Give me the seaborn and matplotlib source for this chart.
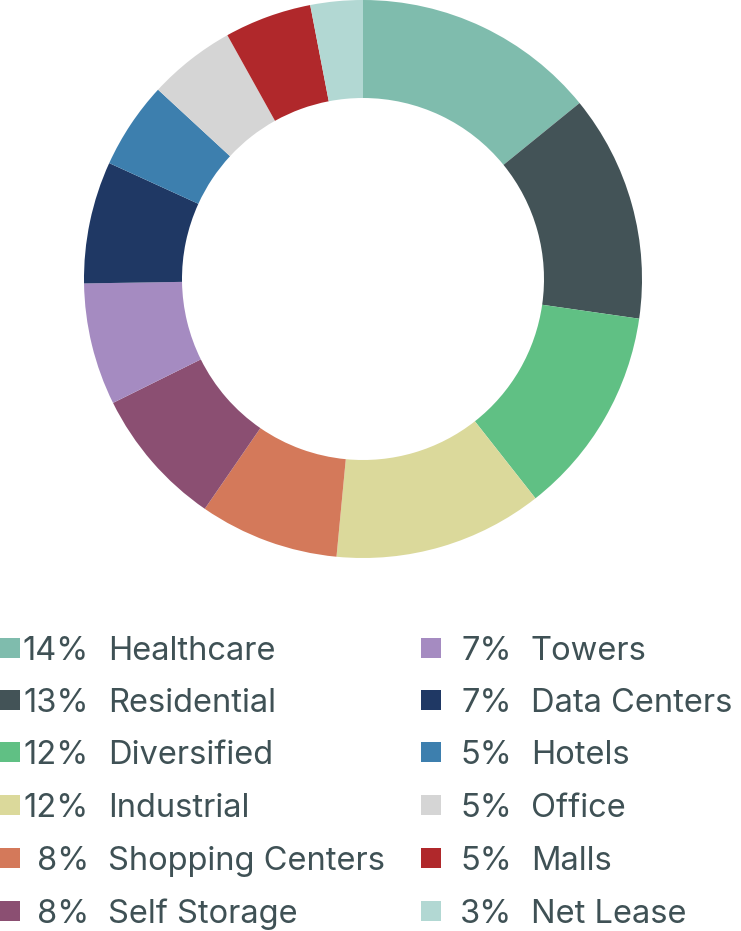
import matplotlib
matplotlib.use("Agg")
import matplotlib.pyplot as plt
import seaborn as sns
from matplotlib.patches import Rectangle

categories = ["Healthcare", "Residential", "Diversified", "Industrial", "Shopping Centers",
              "Self Storage", "Towers", "Data Centers", "Hotels", "Office", "Malls", "Net Lease"]
values = [14, 13, 12, 12, 8, 8, 7, 7, 5, 5, 5, 3]
colors = ["#7fbcad", "#435357", "#60c084", "#dbd99b", "#d4795a", "#8b4f72",
          "#a58bc1", "#1f3864", "#3d7fae", "#d5d5d5", "#b0282b", "#b2d8d3"]

sns.set_theme(style="white")
plt.rcParams['font.family'] = ['Inter', 'DejaVu Sans']

W, H = 741, 931
fig = plt.figure(figsize=(W / 100, H / 100), dpi=100)
ax = fig.add_axes([0, 0, 1, 1])

ax.pie(values, colors=colors, startangle=90, counterclock=False,
       center=(363, H - 279), radius=279, normalize=True,
       wedgeprops=dict(width=98, linewidth=0), frame=True)
ax.set_xlim(0, W)
ax.set_ylim(0, H)
ax.set_aspect('equal')
ax.axis('off')

txt_color = "#3f5155"
rows_y = [648, 700, 752, 805, 858, 911]
fs = 23.5
for i, (cat, v, c) in enumerate(zip(categories, values, colors)):
    col = i // 6
    row = i % 6
    yc = H - rows_y[row]
    if col == 0:
        sq_x, pct_right, lab_x = 0, 89, 108
    else:
        sq_x, pct_right, lab_x = 421, 512, 531
    ax.add_patch(Rectangle((sq_x, yc - 10), 20, 20, color=c, lw=0))
    ax.text(pct_right, yc, f"{v}%", ha='right', va='center_baseline', fontsize=fs, color=txt_color)
    ax.text(lab_x, yc, cat, ha='left', va='center_baseline', fontsize=fs, color=txt_color)

fig.savefig("out.png", dpi=100)
